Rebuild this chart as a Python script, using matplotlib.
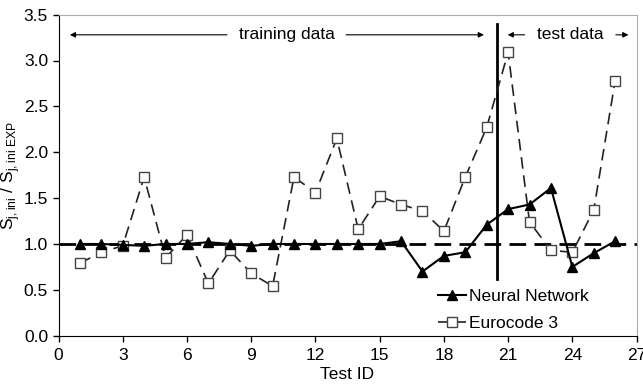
import matplotlib
matplotlib.use("Agg", force=True)
import matplotlib.pyplot as plt

plt.rcParams["font.family"] = ["Liberation Sans", "DejaVu Sans"]
plt.rcParams["mathtext.fontset"] = "custom"
plt.rcParams["mathtext.rm"] = "Liberation Sans"

test_id = list(range(1, 27))
neural_network = [1.00, 1.00, 0.99, 0.98, 1.00, 1.00, 1.02, 1.00, 0.98, 1.00,
                  1.00, 1.00, 1.00, 1.00, 1.00, 1.03, 0.70, 0.87, 0.91, 1.21,
                  1.38, 1.43, 1.61, 0.75, 0.90, 1.03]
eurocode3 = [0.79, 0.91, 0.98, 1.73, 0.85, 1.10, 0.57, 0.93, 0.68, 0.54,
             1.73, 1.56, 2.15, 1.16, 1.52, 1.43, 1.36, 1.14, 1.73, 2.27,
             3.09, 1.24, 0.93, 0.91, 1.37, 2.78]
x_ticks = [0, 3, 6, 9, 12, 15, 18, 21, 24, 27]
y_ticks = [0.0, 0.5, 1.0, 1.5, 2.0, 2.5, 3.0, 3.5]
split_x = 20.5

fig = plt.figure(figsize=(6.43, 3.85), dpi=100)
ax = fig.add_axes([0.091, 0.128, 0.899, 0.834])

ax.axhline(1.0, color="black", lw=2, dashes=(6, 3), zorder=1)
ax.plot([split_x, split_x], [0.62, 3.40], color="black", lw=2, zorder=2)

ax.plot(test_id, eurocode3, color="#222222", lw=1.2, dashes=(7, 4),
        marker="s", ms=7, mfc="white", mec="#444444", mew=1,
        label="Eurocode 3", zorder=3)
ax.plot(test_id, neural_network, color="black", lw=1.5,
        marker="^", ms=6.5, mfc="black", mec="black",
        label="Neural Network", zorder=4)

# region annotations
arrow = dict(arrowstyle="-|>", color="black", lw=0.8, mutation_scale=8)
ay = 3.28
fs = 12.5
ax.annotate("", xy=(0.4, ay), xytext=(8.0, ay), arrowprops=arrow)
ax.annotate("", xy=(20.0, ay), xytext=(13.3, ay), arrowprops=arrow)
ax.text(10.65, ay, "training data", ha="center", va="center", fontsize=fs)
ax.annotate("", xy=(20.85, ay), xytext=(21.9, ay), arrowprops=arrow)
ax.annotate("", xy=(26.75, ay), xytext=(25.9, ay), arrowprops=arrow)
ax.text(23.9, ay, "test data", ha="center", va="center", fontsize=fs)

ax.set_xlim(0, 27)
ax.set_ylim(0, 3.5)
ax.set_xticks(x_ticks)
ax.set_yticks(y_ticks)
ax.set_yticklabels([f"{v:.1f}" for v in y_ticks])
ax.tick_params(labelsize=fs, direction="out", length=4, width=1)
ax.tick_params(axis="x", pad=5)
ax.set_xlabel("Test ID", fontsize=fs, labelpad=3)
ax.set_ylabel(r"S$_{\mathrm{j,ini}}$ / S$_{\mathrm{j,ini\ EXP}}$", fontsize=fs, labelpad=1)

for s in ("top", "right"):
    ax.spines[s].set_color("#aaaaaa")
for s in ("left", "bottom"):
    ax.spines[s].set_color("black")

h, l = ax.get_legend_handles_labels()
ax.legend(h[::-1], l[::-1], loc="lower right", bbox_to_anchor=(0.945, -0.035),
          frameon=False, fontsize=fs, handlelength=1.6, handletextpad=0.2,
          labelspacing=0.7)

fig.savefig("out.png", dpi=100)
